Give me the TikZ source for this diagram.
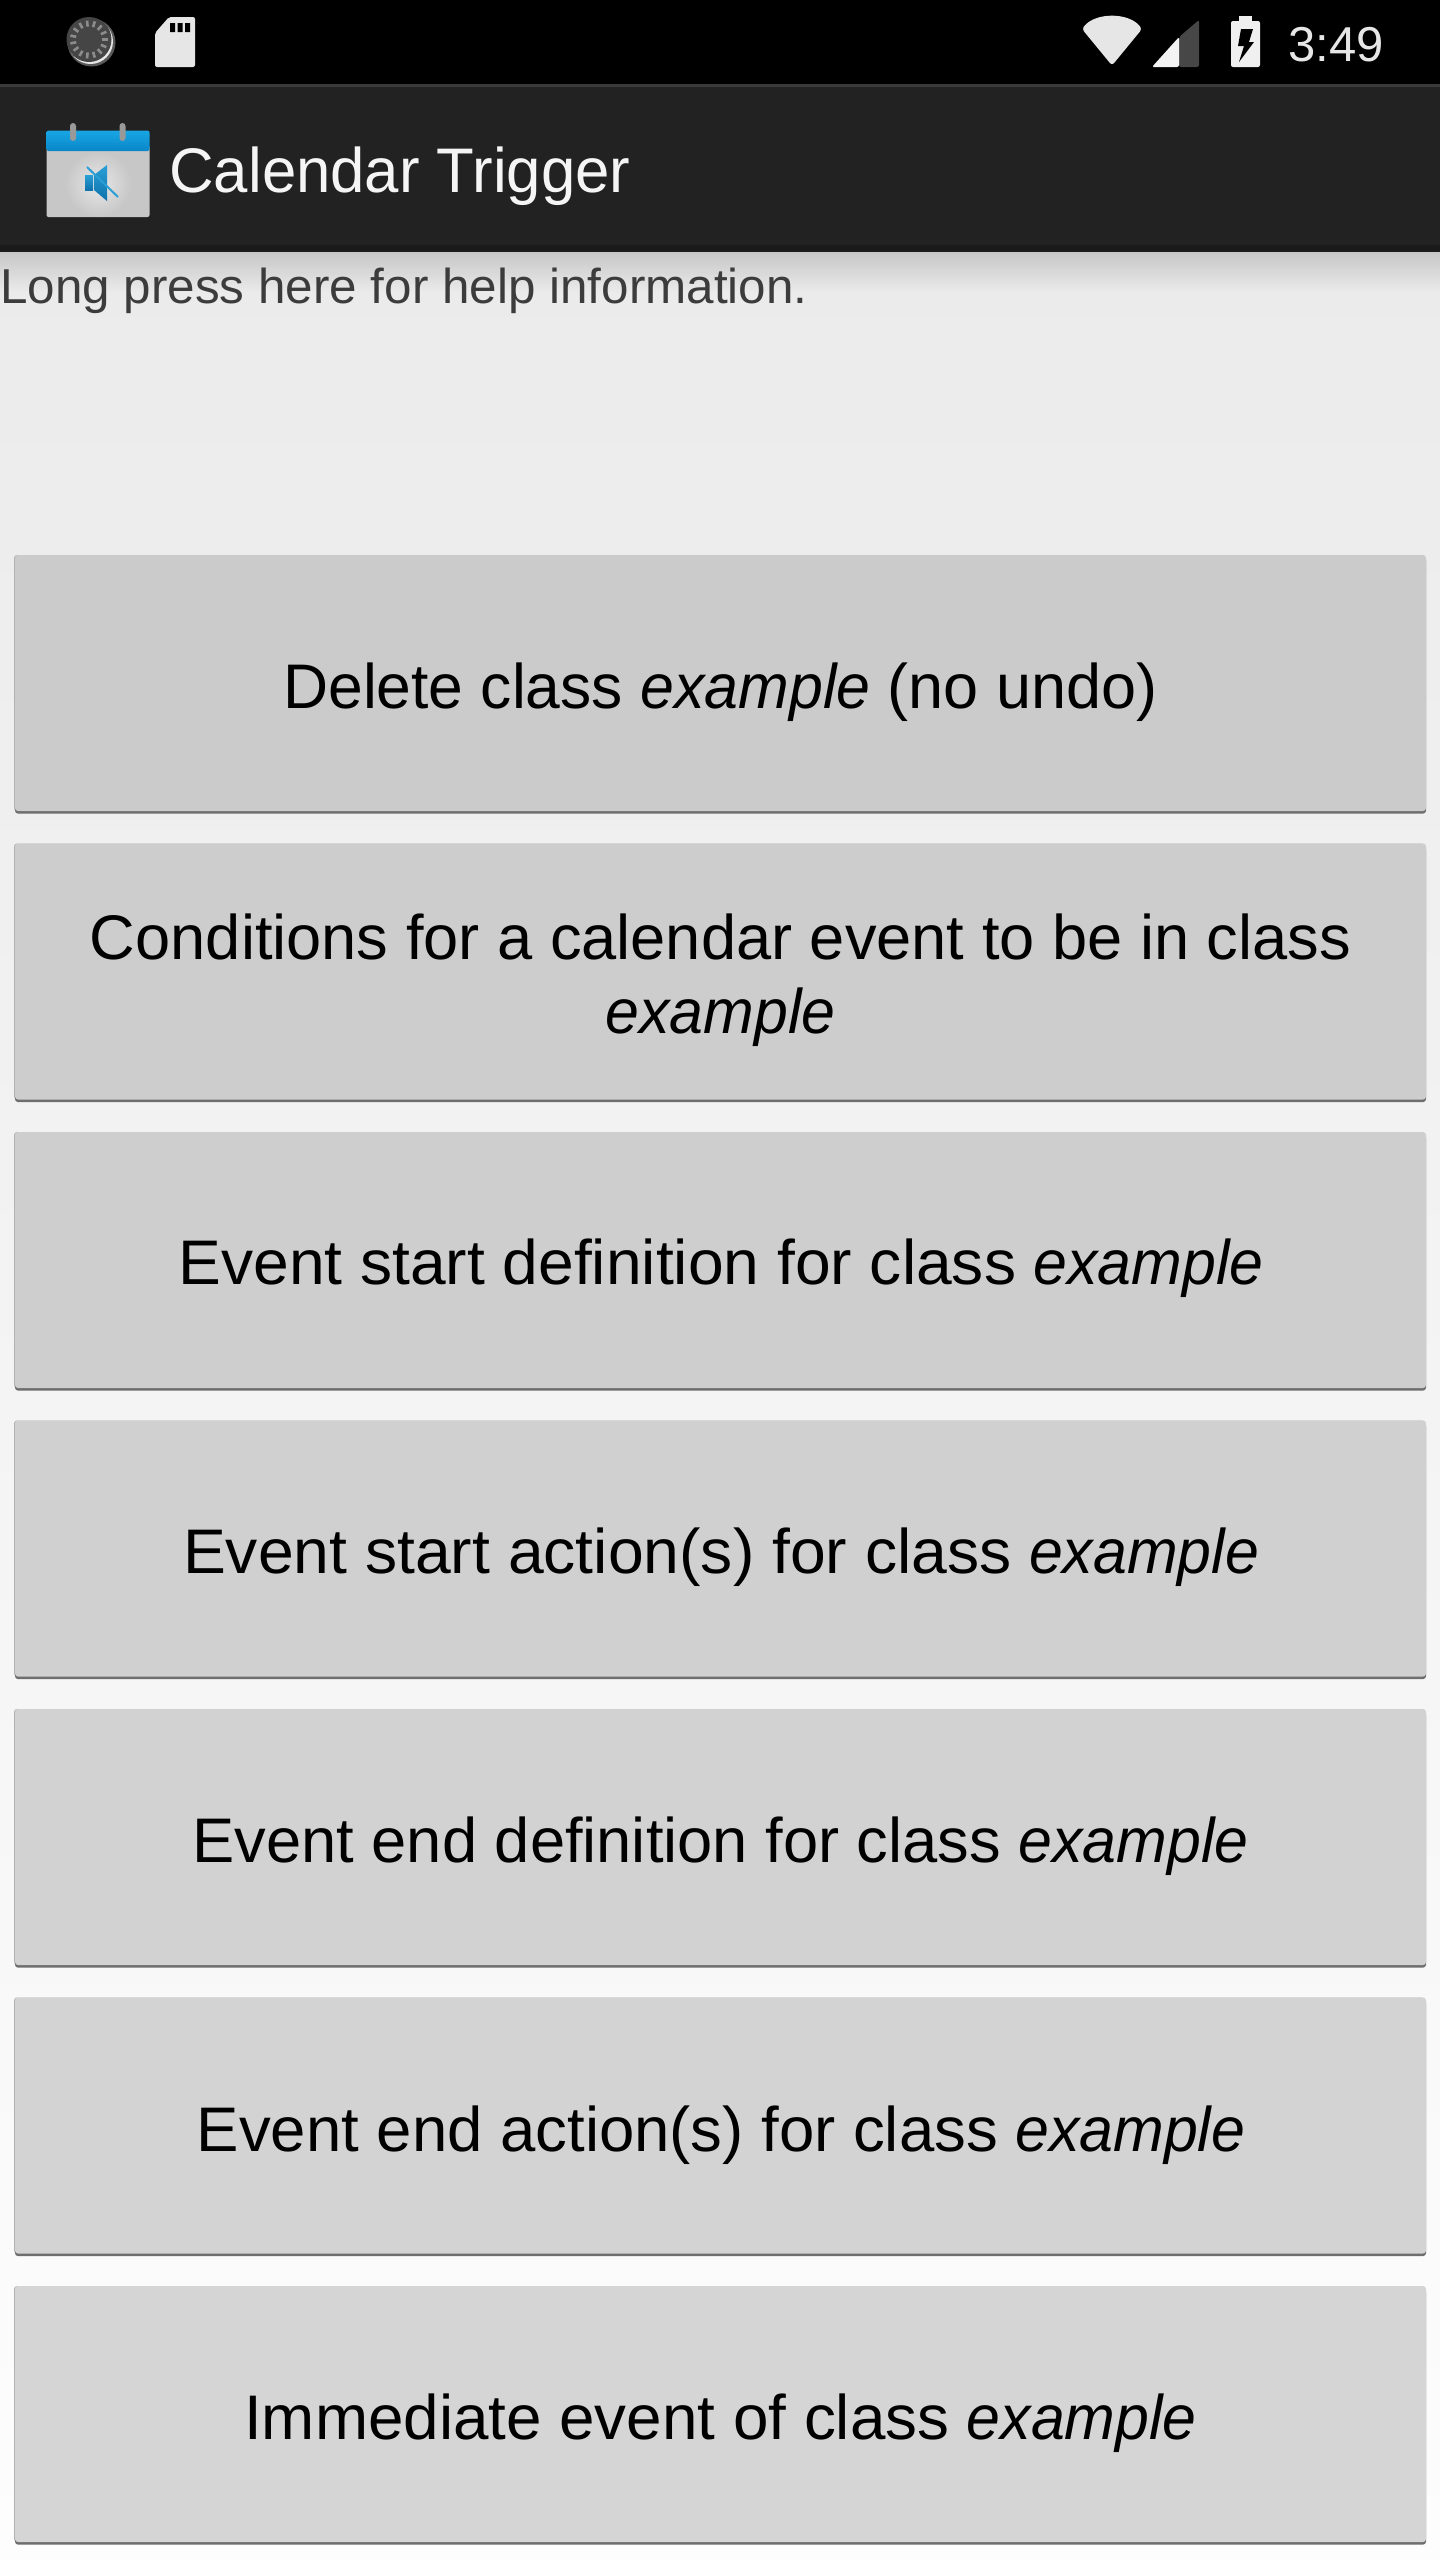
\documentclass[tikz,border=0pt]{standalone}
\usepackage{fontspec}
\usepackage{graphicx}
\setmainfont{Liberation Sans}
\usetikzlibrary{shadows,calc}
\definecolor{barblack}{HTML}{000000}
\definecolor{barline}{HTML}{3A3A3A}
\definecolor{actionbar}{HTML}{222222}
\definecolor{actionedge}{HTML}{1A1A1A}
\definecolor{iconlight}{HTML}{E6E6E6}
\definecolor{bgtop}{HTML}{EBEBEB}
\definecolor{bgbot}{HTML}{FDFDFD}
\definecolor{shadowtop}{HTML}{C6C6C6}
\definecolor{helpgray}{HTML}{3C3C3C}
\definecolor{btnedge}{HTML}{6E6E6E}
\definecolor{b0}{HTML}{CBCBCB}
\definecolor{b1}{HTML}{CDCDCD}
\definecolor{b2}{HTML}{CECECE}
\definecolor{b3}{HTML}{D0D0D0}
\definecolor{b4}{HTML}{D2D2D2}
\definecolor{b5}{HTML}{D3D3D3}
\definecolor{b6}{HTML}{D5D5D5}
\definecolor{caltop}{HTML}{18A6E4}
\definecolor{calbot}{HTML}{0A86C8}
\definecolor{spktop}{HTML}{2A9FD6}
\definecolor{spkbot}{HTML}{0E72AC}
\newcommand{\hs}[2]{\scalebox{#1}[1]{#2}}
\newcommand{\ex}{\scalebox{.965}[1]{\textit{example}}}
\tikzset{
  btn/.style={rectangle,rounded corners=1.5pt,minimum width=705.5pt,minimum height=128pt,inner sep=0pt,outer sep=0pt,fill=#1,
    general shadow={fill=black!30,shadow xshift=-0.5pt,shadow yshift=0pt},
    general shadow={fill=btnedge,shadow xshift=0pt,shadow yshift=-1.3pt}},
  btntext/.style={anchor=base,inner sep=0pt,font=\fontsize{31.5pt}{37pt}\selectfont,text=black,align=center},
  icon/.style={fill=iconlight,draw=none},
}
\begin{document}
\begin{tikzpicture}[x=0.5pt,y=-0.5pt]
\useasboundingbox (0,0) rectangle (1440,2560);
% background
\shade[top color=bgtop,bottom color=bgbot,middle color=bgtop!50!bgbot] (0,252) rectangle (1440,2560);
\shade[top color=shadowtop,bottom color=bgtop] (0,252) rectangle (1440,292);
\fill[barblack] (0,0) rectangle (1440,84);
\fill[barline] (0,84) rectangle (1440,87);
\fill[actionbar] (0,87) rectangle (1440,245);
\fill[actionedge] (0,245) rectangle (1440,252);
% spinner
\fill[black!65] (91.5,42.5) circle (24);
\fill[iconlight] (90.5,41.5) circle (22.5);
\fill[black!73] (89,39.5) circle (22.5);
\foreach \a in {0,24,...,336}{\draw[black!45,line width=1.3pt] ($(89,39.5)+(\a:13)$) -- ($(89,39.5)+(\a:19)$);}
% SD card
\fill[icon,rounded corners=1pt] (155,67) -- (155,33) -- (169,17) -- (195,17) -- (195,67) -- cycle;
\fill[black] (170,23) rectangle (175,32) (177.5,23) rectangle (182.5,32) (185,23) rectangle (190,32);
% wifi
\fill[icon,rounded corners=1.5pt] (1112,65.5) -- (1082,29) .. controls (1095,12) and (1129,12) .. (1142,29) -- cycle;
% signal
\fill[black!72,rounded corners=1pt] (1179,37) -- (1199,20) -- (1199,67) -- (1179,67) -- cycle;
\fill[iconlight!50!white,rounded corners=1pt] (1152,67) -- (1179,37) -- (1179,67) -- cycle;
% battery
\fill[iconlight!60!white,rounded corners=1pt] (1231,21) rectangle (1260,67);
\fill[iconlight!60!white] (1239,16) rectangle (1252,22);
\fill[black] (1241,29) -- (1253,29) -- (1249,42) -- (1254,42) -- (1239,62) -- (1244,46) -- (1238,46) -- cycle;
% time
\node[anchor=base west,inner sep=0pt,text=iconlight,font=\fontsize{24.5pt}{28pt}\selectfont] (time) at (1288,61) {3:49};
% calendar icon
\fill[black!22,rounded corners=1pt] (46.5,145) rectangle (149.5,217);
\shade[inner color=black!9,outer color=black!22] (98,184) circle (33);
\shade[top color=caltop,bottom color=calbot,rounded corners=1pt] (46.5,130.5) rectangle (149.5,151);
\fill[black!40,rounded corners=1.5pt] (70,123) rectangle (76,141) (119.5,123) rectangle (125.5,141);
\shade[top color=spktop,bottom color=spkbot] (85,175) rectangle (93,190);
\shade[top color=spktop,bottom color=spkbot] (94,175) -- (107,165) -- (107,201) -- (94,190) -- cycle;
\draw[spktop,line width=1pt] (87,167) -- (118,197);
% title and help
\node[anchor=base west,inner sep=0pt,text=white!96!black,font=\fontsize{31.5pt}{37pt}\selectfont] (title) at (169,192) {\hs{.98}{Calendar Trigger}};
\node[anchor=base west,inner sep=0pt,text=helpgray,font=\fontsize{24.5pt}{28pt}\selectfont] (help) at (0,303) {\hs{1.008}{Long press here for help information.}};
% buttons
\node[btn=b0] (b1) at (720.5,683) {};
\node[btn=b1] (b2) at (720.5,971.5) {};
\node[btn=b2] (b3) at (720.5,1260) {};
\node[btn=b3] (b4) at (720.5,1548.5) {};
\node[btn=b4] (b5) at (720.5,1837) {};
\node[btn=b5] (b6) at (720.5,2125.5) {};
\node[btn=b6] (b7) at (720.5,2414) {};
\node[btntext] (t1) at (720.5,708) {\hs{.99}{Delete class} \ex{} (no undo)};
\node[btntext] (t2) at (720.5,1033.5) {\hs{1.003}{Conditions for a calendar event to be in class}\\\ex};
\node[btntext] (t3) at (721,1284.5) {\hs{1.018}{Event start definition for class} \ex};
\node[btntext] (t4) at (721,1573.4) {\hs{1.02}{Event start action(s) for class} \ex};
\node[btntext] (t5) at (720.5,1862.2) {\hs{1.004}{Event end definition for class} \ex};
\node[btntext] (t6) at (721,2151) {\hs{1.008}{Event end action(s) for class} \ex};
\node[btntext] (t7) at (720.5,2439.8) {\hs{1.012}{Immediate event of class} \ex};
\end{tikzpicture}
\end{document}
